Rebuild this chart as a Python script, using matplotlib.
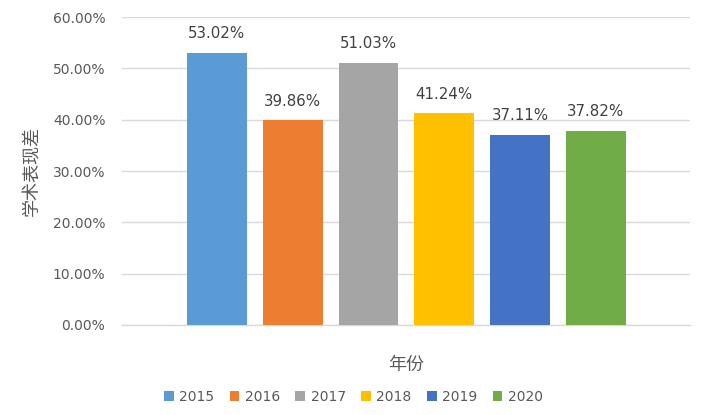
import matplotlib
matplotlib.use('Agg')
import matplotlib.pyplot as plt
from matplotlib.ticker import FuncFormatter

years = ['2015', '2016', '2017', '2018', '2019', '2020']
values = [53.02, 39.86, 51.03, 41.24, 37.11, 37.82]
colors = ['#5b9bd5', '#ed7d31', '#a5a5a5', '#ffc000', '#4472c4', '#70ad47']

plt.rcParams['font.family'] = ['DejaVu Sans', 'Noto Sans CJK SC']
txt = '#595959'

fig = plt.figure(figsize=(7.07, 4.15), dpi=100)
ax = fig.add_axes([0.1726, 0.2169, 0.8034, 0.7421])

for i, (y, v, c) in enumerate(zip(years, values, colors)):
    ax.bar(i, v, width=0.79, color=c, label=y, zorder=3)
    ax.text(i, v + 2.3, '%.2f%%' % v, ha='center', va='bottom',
            fontsize=10.8, color='#404040')

ax.set_xlim(-1.25, 6.24)
ax.set_ylim(0, 60)
ax.set_yticks(range(0, 61, 10))
ax.yaxis.set_major_formatter(FuncFormatter(lambda v, p: '%.2f%%' % v))
ax.set_xticks([])
ax.grid(axis='y', color='#d9d9d9', linewidth=1, zorder=0)
for s in ['top', 'right', 'left']:
    ax.spines[s].set_visible(False)
ax.spines['bottom'].set_color('#d9d9d9')
ax.spines['bottom'].set_linewidth(1)
ax.tick_params(axis='y', length=0, labelsize=10, labelcolor=txt, pad=12)

ax.set_xlabel('年份', fontsize=13, color=txt, family=['Noto Sans CJK SC'], labelpad=22)
ax.set_ylabel('学术表现差', fontsize=13, color=txt, family=['Noto Sans CJK SC'], labelpad=8)

leg = fig.legend(loc='center', bbox_to_anchor=(0.5, 0.043), ncol=6, frameon=False,
                 fontsize=10, handlelength=0.7, handleheight=0.7, handletextpad=0.4,
                 columnspacing=1.1)
for t in leg.get_texts():
    t.set_color(txt)

fig.savefig('out.png', dpi=100)
